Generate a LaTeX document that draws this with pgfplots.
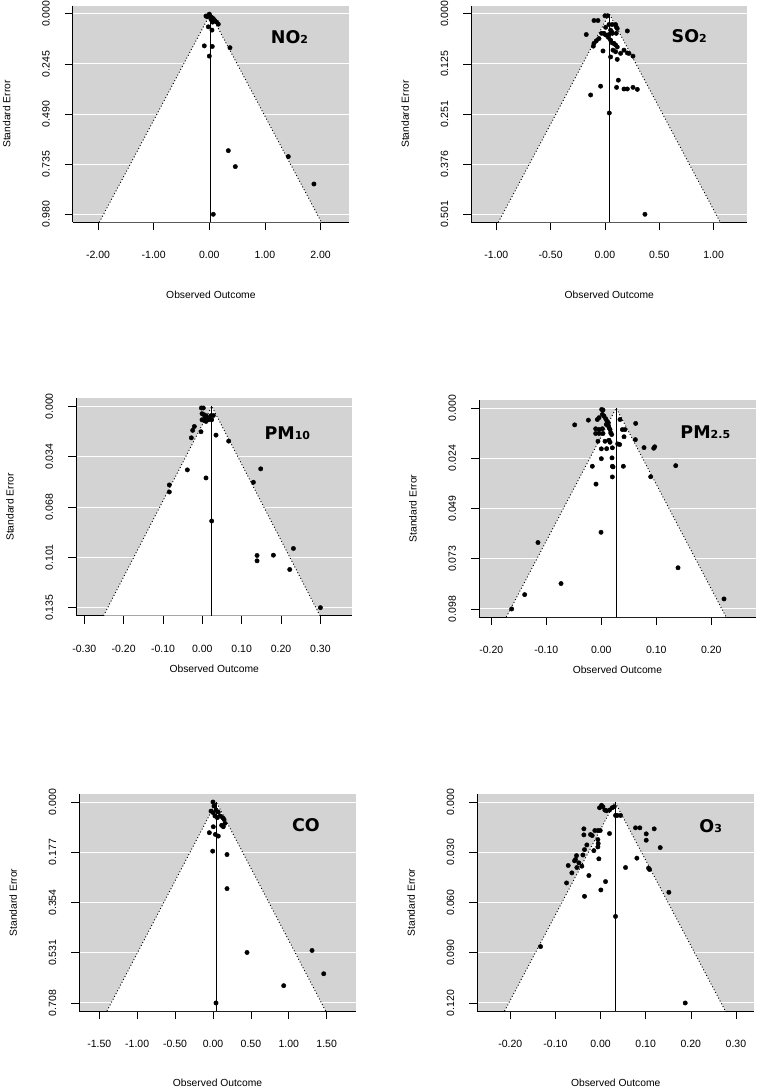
\documentclass[border=0pt]{standalone}
\usepackage{fontspec}
\setmainfont{Liberation Sans}
\newfontfamily\titlefont{DejaVu Sans}
\usepackage{graphicx}
\usepackage{pgfplots}
\usepackage{pgfplotstable}
\pgfplotsset{compat=1.18}
\definecolor{bggray}{RGB}{211,211,211}

\pgfplotstableread{
x y
0.000 0.002
-0.060 0.011
-0.036 0.015
0.012 0.010
0.042 0.018
0.072 0.024
0.030 0.028
0.102 0.034
0.132 0.041
0.162 0.051
0.060 0.041
-0.018 0.064
0.048 0.080
-0.090 0.157
0.054 0.160
0.372 0.166
0.000 0.207
0.342 0.669
1.421 0.698
0.468 0.747
1.882 0.832
0.072 0.980
}\dataNO

\pgfplotstableread{
x y
0.000 0.005
0.025 0.005
-0.101 0.017
-0.064 0.017
0.037 0.027
0.067 0.027
0.098 0.027
0.104 0.033
0.113 0.037
0.206 0.043
0.006 0.034
0.052 0.041
0.061 0.045
-0.172 0.052
-0.031 0.049
-0.009 0.049
0.006 0.053
0.037 0.052
0.067 0.049
0.104 0.049
-0.055 0.062
-0.080 0.068
-0.101 0.074
-0.107 0.081
0.031 0.059
0.052 0.066
0.067 0.073
0.083 0.074
0.098 0.078
0.113 0.083
0.074 0.091
0.098 0.095
0.144 0.099
0.175 0.091
0.206 0.098
0.221 0.099
0.258 0.106
-0.018 0.093
0.052 0.108
0.113 0.114
0.123 0.166
-0.040 0.181
0.107 0.184
0.175 0.188
0.206 0.188
0.258 0.184
0.298 0.189
-0.132 0.203
0.040 0.248
0.368 0.501
}\dataSO

\pgfplotstableread{
x y
-0.0025 0.0011
0.0025 0.0011
-0.0008 0.0049
0.0042 0.0056
0.0093 0.0063
0.0127 0.0079
-0.0008 0.0090
0.0042 0.0094
0.0093 0.0101
0.0153 0.0090
0.0195 0.0085
0.0237 0.0090
0.0212 0.0063
0.0280 0.0061
0.0068 0.0079
-0.0203 0.0135
-0.0246 0.0161
-0.0034 0.0170
-0.0280 0.0211
0.0347 0.0193
0.0669 0.0233
0.1483 0.0419
-0.0381 0.0426
0.0093 0.0480
0.1297 0.0509
-0.0839 0.0527
-0.0839 0.0574
0.0237 0.0769
0.2314 0.0953
0.1390 0.1000
0.1805 0.0998
0.1390 0.1036
0.2220 0.1094
0.3000 0.1350
}\dataPMten

\pgfplotstableread{
x y
0.0006 0.0007
0.0030 0.0010
-0.0042 0.0047
0.0018 0.0031
0.0048 0.0039
0.0079 0.0052
0.0103 0.0064
0.0127 0.0072
0.0091 0.0080
0.0127 0.0085
0.0139 0.0096
0.0158 0.0105
0.0170 0.0121
-0.0073 0.0056
-0.0236 0.0059
-0.0485 0.0082
-0.0103 0.0101
-0.0042 0.0105
0.0018 0.0101
-0.0103 0.0124
-0.0042 0.0124
0.0030 0.0124
0.0188 0.0129
0.0339 0.0056
0.0382 0.0105
0.0430 0.0105
0.0412 0.0140
0.0333 0.0178
0.0297 0.0175
0.0624 0.0075
0.0618 0.0154
-0.0061 0.0162
0.0067 0.0162
0.0139 0.0157
0.0158 0.0167
0.0097 0.0198
0.0000 0.0199
0.0200 0.0194
0.0776 0.0193
0.0952 0.0196
0.0970 0.0189
0.0000 0.0247
0.0194 0.0243
-0.0164 0.0284
0.0200 0.0284
0.0212 0.0287
0.0400 0.0284
0.1352 0.0281
0.0200 0.0336
0.0897 0.0335
-0.0097 0.0371
-0.0006 0.0606
-0.1152 0.0656
0.1394 0.0779
-0.0733 0.0856
-0.1394 0.0910
-0.1630 0.0980
0.2230 0.0931
}\dataPMtwo

\pgfplotstableread{
x y
0.000 0.000
0.013 0.014
-0.026 0.032
0.004 0.038
0.040 0.028
0.070 0.035
0.026 0.049
0.057 0.055
0.092 0.049
0.128 0.055
0.145 0.061
0.158 0.075
0.114 0.082
0.004 0.087
0.136 0.087
-0.048 0.108
0.031 0.114
0.070 0.120
-0.004 0.173
0.185 0.185
0.185 0.305
0.449 0.530
1.307 0.523
1.461 0.605
0.933 0.647
0.040 0.708
}\dataCO

\pgfplotstableread{
x y
-0.0022 0.0034
0.0022 0.0020
0.0052 0.0028
0.0096 0.0048
0.0133 0.0052
0.0199 0.0048
0.0258 0.0034
0.0303 0.0028
0.0332 0.0080
0.0369 0.0080
0.0443 0.0080
-0.0369 0.0160
-0.0369 0.0196
-0.0222 0.0194
-0.0185 0.0200
-0.0126 0.0170
-0.0059 0.0170
-0.0007 0.0170
0.0199 0.0188
-0.0059 0.0224
-0.0052 0.0248
-0.0059 0.0268
-0.0303 0.0256
-0.0355 0.0284
-0.0391 0.0316
-0.0148 0.0290
-0.0037 0.0339
-0.0532 0.0320
-0.0554 0.0343
-0.0576 0.0351
-0.0480 0.0363
-0.0414 0.0383
-0.0524 0.0391
-0.0716 0.0379
-0.0635 0.0423
-0.0258 0.0439
-0.0753 0.0483
0.0111 0.0475
0.0007 0.0525
-0.0355 0.0563
0.0332 0.0683
-0.1329 0.0863
0.0554 0.0391
0.0805 0.0335
0.0775 0.0154
0.0871 0.0154
0.1189 0.0160
0.1012 0.0190
0.1012 0.0228
0.1322 0.0272
0.1064 0.0395
0.1086 0.0403
0.1514 0.0539
0.1876 0.1200
}\dataOz

\newcommand{\R}[1]{\rotatebox{90}{#1}}

\pgfplotsset{
 funnel/.style={
  scale only axis,
  anchor=south west,
  axis x line=bottom, axis y line=left,
  axis line style={-, black, line width=0.6pt},
  tick align=outside,
  major tick length=8pt,
  tick style={black, line width=0.6pt},
  y dir=reverse,
  axis background/.style={fill=bggray},
  ymajorgrids, major grid style={white, line width=1pt},
  tick label style={font=\fontsize{10.5}{12}\selectfont},
  xticklabel shift=17.5pt,
  yticklabel style={anchor=east, xshift=-11.5pt},
  /pgf/number format/assume math mode=true,
 },
 dots/.style={only marks, mark=*, mark size=2.2pt, black},
 edge/.style={black, line width=0.9pt, dash pattern=on 1pt off 2.2pt},
 estline/.style={black, line width=0.6pt},
}

\newcommand{\lab}{\fontsize{10.3}{12}\selectfont}
\newcommand{\ttl}{\titlefont\bfseries\fontsize{17.5}{20}\selectfont}
\newcommand{\sm}[1]{{\fontsize{11}{12}\selectfont #1}}

\begin{document}
\begin{tikzpicture}
\useasboundingbox (0,0) rectangle (758pt,-1089pt);

% NO2
\begin{axis}[funnel, at={(72.7pt,-222.3pt)}, width=276.3pt, height=216.6pt,
  xmin=-2.457, xmax=2.513, ymin=-0.0392, ymax=1.0192,
  xtick={-2,-1,0,1,2}, xticklabels={-2.00,-1.00,0.00,1.00,2.00},
  ytick={0,0.245,0.49,0.735,0.98}, yticklabels={\R{0.000},\R{0.245},\R{0.490},\R{0.735},\R{0.980}}]
\addplot[fill=white, draw=none] coordinates {(-1.978,1.0192) (0.02,0) (2.018,1.0192)} -- cycle;
\addplot[edge] coordinates {(-1.978,1.0192) (0.02,0) (2.018,1.0192)};
\addplot[estline] coordinates {(0.02,0) (0.02,1.0192)};
\addplot[dots] table[x=x,y=y] {\dataNO};
\end{axis}

% SO2
\begin{axis}[funnel, at={(471.3pt,-222.3pt)}, width=276pt, height=216.6pt,
  xmin=-1.230, xmax=1.310, ymin=-0.02004, ymax=0.52104,
  xtick={-1,-0.5,0,0.5,1}, xticklabels={-1.00,-0.50,0.00,0.50,1.00},
  ytick={0,0.12525,0.2505,0.37575,0.501}, yticklabels={\R{0.000},\R{0.125},\R{0.251},\R{0.376},\R{0.501}}]
\addplot[fill=white, draw=none] coordinates {(-0.981,0.52104) (0.04,0) (1.061,0.52104)} -- cycle;
\addplot[edge] coordinates {(-0.981,0.52104) (0.04,0) (1.061,0.52104)};
\addplot[estline] coordinates {(0.04,0) (0.04,0.52104)};
\addplot[dots] table[x=x,y=y] {\dataSO};
\end{axis}

% PM10
\begin{axis}[funnel, at={(76pt,-615.7pt)}, width=276.3pt, height=217.4pt,
  xmin=-0.321, xmax=0.381, ymin=-0.0054, ymax=0.1404,
  xtick={-0.3,-0.2,-0.1,0,0.1,0.2,0.3}, xticklabels={-0.30,-0.20,-0.10,0.00,0.10,0.20,0.30},
  ytick={0,0.03375,0.0675,0.10125,0.135}, yticklabels={\R{0.000},\R{0.034},\R{0.068},\R{0.101},\R{0.135}}]
\addplot[fill=white, draw=none] coordinates {(-0.251,0.1404) (0.024,0) (0.299,0.1404)} -- cycle;
\addplot[edge] coordinates {(-0.251,0.1404) (0.024,0) (0.299,0.1404)};
\addplot[estline] coordinates {(0.024,0) (0.024,0.1404)};
\addplot[dots] table[x=x,y=y] {\dataPMten};
\end{axis}

% PM2.5
\begin{axis}[funnel, at={(479pt,-617pt)}, width=276.7pt, height=217pt,
  xmin=-0.2224, xmax=0.2806, ymin=-0.00392, ymax=0.10192,
  xtick={-0.2,-0.1,0,0.1,0.2}, xticklabels={-0.20,-0.10,0.00,0.10,0.20},
  ytick={0,0.0245,0.049,0.0735,0.098}, yticklabels={\R{0.000},\R{0.024},\R{0.049},\R{0.073},\R{0.098}}]
\addplot[fill=white, draw=none] coordinates {(-0.1728,0.10192) (0.027,0) (0.2268,0.10192)} -- cycle;
\addplot[edge] coordinates {(-0.1728,0.10192) (0.027,0) (0.2268,0.10192)};
\addplot[estline] coordinates {(0.027,0) (0.027,0.10192)};
\addplot[dots] table[x=x,y=y] {\dataPMtwo};
\end{axis}

% CO
\begin{axis}[funnel, at={(79.3pt,-1011pt)}, width=276.4pt, height=217pt,
  xmin=-1.764, xmax=1.883, ymin=-0.02832, ymax=0.73632,
  xtick={-1.5,-1,-0.5,0,0.5,1,1.5}, xticklabels={-1.50,-1.00,-0.50,0.00,0.50,1.00,1.50},
  ytick={0,0.177,0.354,0.531,0.708}, yticklabels={\R{0.000},\R{0.177},\R{0.354},\R{0.531},\R{0.708}}]
\addplot[fill=white, draw=none] coordinates {(-1.399,0.73632) (0.044,0) (1.487,0.73632)} -- cycle;
\addplot[edge] coordinates {(-1.399,0.73632) (0.044,0) (1.487,0.73632)};
\addplot[estline] coordinates {(0.044,0) (0.044,0.73632)};
\addplot[dots] table[x=x,y=y] {\dataCO};
\end{axis}

% O3
\begin{axis}[funnel, at={(477.3pt,-1011pt)}, width=276.7pt, height=217pt,
  xmin=-0.273, xmax=0.340, ymin=-0.0048, ymax=0.1248,
  xtick={-0.2,-0.1,0,0.1,0.2,0.3}, xticklabels={-0.20,-0.10,0.00,0.10,0.20,0.30},
  ytick={0,0.03,0.06,0.09,0.12}, yticklabels={\R{0.000},\R{0.030},\R{0.060},\R{0.090},\R{0.120}}]
\addplot[fill=white, draw=none] coordinates {(-0.2126,0.1248) (0.032,0) (0.2766,0.1248)} -- cycle;
\addplot[edge] coordinates {(-0.2126,0.1248) (0.032,0) (0.2766,0.1248)};
\addplot[estline] coordinates {(0.032,0) (0.032,0.1248)};
\addplot[dots] table[x=x,y=y] {\dataOz};
\end{axis}

% axis titles
\node[font=\lab, rotate=90] at (6.7pt,-114pt) {Standard Error};
\node[font=\lab] at (210.9pt,-295pt) {Observed Outcome};
\node[font=\lab, rotate=90] at (405.3pt,-114pt) {Standard Error};
\node[font=\lab] at (609.3pt,-295pt) {Observed Outcome};
\node[font=\lab, rotate=90] at (10pt,-507pt) {Standard Error};
\node[font=\lab] at (214.2pt,-669pt) {Observed Outcome};
\node[font=\lab, rotate=90] at (413pt,-508.5pt) {Standard Error};
\node[font=\lab] at (617.4pt,-670pt) {Observed Outcome};
\node[font=\lab, rotate=90] at (13.3pt,-902.5pt) {Standard Error};
\node[font=\lab] at (217.5pt,-1083pt) {Observed Outcome};
\node[font=\lab, rotate=90] at (411.3pt,-902.5pt) {Standard Error};
\node[font=\lab] at (615.7pt,-1083pt) {Observed Outcome};

% panel titles
\node[font=\ttl] at (289.5pt,-37.3pt) {NO\sm{2}};
\node[font=\ttl] at (689.3pt,-36pt) {SO\sm{2}};
\node[font=\ttl] at (287.3pt,-432.7pt) {PM\sm{10}};
\node[font=\ttl] at (705.3pt,-432.3pt) {PM\sm{2.5}};
\node[font=\ttl] at (306pt,-825.3pt) {CO};
\node[font=\ttl] at (710.7pt,-826pt) {O\sm{3}};
\end{tikzpicture}
\end{document}
